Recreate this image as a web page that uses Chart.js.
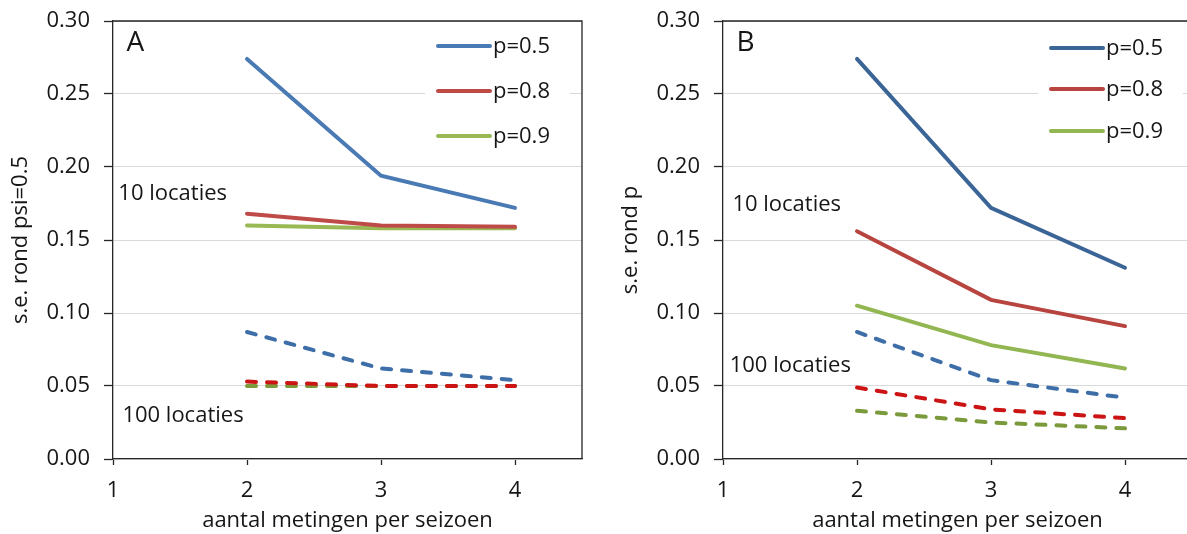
<!DOCTYPE html>
<html>
<head>
<meta charset="utf-8">
<script src="https://cdn.jsdelivr.net/npm/chart.js@4/dist/chart.umd.min.js"></script>
<style>
html, body { margin: 0; padding: 0; background: #fff; overflow: hidden; }
#wrap { position: relative; width: 1187px; height: 534px; overflow: hidden; }
.panel { position: absolute; top: 0; width: 600px; height: 534px; }
</style>
</head>
<body>
<div id="wrap">
  <div class="panel" style="left:0"><canvas id="chartA" width="600" height="534"></canvas></div>
  <div class="panel" style="left:610px"><canvas id="chartB" width="600" height="534"></canvas></div>
</div>
<script>
// metingen per seizoen
const xValues = [2, 3, 4]
const xTicks = [1, 2, 3, 4]
const yTicks = [0, 0.05, 0.10, 0.15, 0.20, 0.25, 0.30]
const seriesLabels = ['p=0.5', 'p=0.8', 'p=0.9']

// A: s.e. rond psi=0.5
const a10_p05 = [0.274, 0.194, 0.172]
const a10_p08 = [0.168, 0.160, 0.159]
const a10_p09 = [0.160, 0.158, 0.158]
const a100_p05 = [0.087, 0.062, 0.054]
const a100_p08 = [0.053, 0.050, 0.050]
const a100_p09 = [0.050, 0.050, 0.050]

// B: s.e. rond p
const b10_p05 = [0.274, 0.172, 0.131]
const b10_p08 = [0.156, 0.109, 0.091]
const b10_p09 = [0.105, 0.078, 0.062]
const b100_p05 = [0.087, 0.054, 0.042]
const b100_p08 = [0.049, 0.034, 0.028]
const b100_p09 = [0.033, 0.025, 0.021]

const FONT = "'Open Sans', sans-serif"
const FS = 22
const TXT = '#161616'

const toPoints = (vals) => xValues.map((x, i) => ({x: x, y: vals[i]}))

const makeDatasets = (s10, s100, colors10, colors100) => {
    var sets = []
    s10.forEach((vals, i) => {
        sets.push({
            label: seriesLabels[i],
            data: toPoints(vals),
            borderColor: colors10[i],
            borderWidth: 4,
            pointRadius: 0,
            borderCapStyle: 'round',
            inLegend: true
        })
    })
    s100.forEach((vals, i) => {
        sets.push({
            label: '100 locaties ' + seriesLabels[i],
            data: toPoints(vals),
            borderColor: colors100[i],
            borderWidth: 4,
            pointRadius: 0,
            borderDash: [9, 11],
            borderCapStyle: 'round',
            inLegend: false
        })
    })
    return sets
}

// frame, legend and text inside the plot
const panelDecor = {
    id: 'panelDecor',
    beforeDatasetsDraw(chart, args, opts) {
        const ca = chart.chartArea
        const ctx = chart.ctx
        ctx.save()
        ctx.fillStyle = '#fff'
        ctx.fillRect(ca.left + opts.legend.x - 13, ca.top + 2, 145, opts.legend.ys[2] + 20)
        ctx.restore()
    },
    afterDatasetsDraw(chart, args, opts) {
        const ca = chart.chartArea
        const ctx = chart.ctx
        const xs = chart.scales.x
        const ys = chart.scales.y
        ctx.save()
        ctx.strokeStyle = '#262626'
        ctx.lineWidth = 1.3
        ctx.beginPath()
        ctx.moveTo(ca.left, ca.top)
        ctx.lineTo(ca.right, ca.top)
        ctx.lineTo(ca.right, ca.bottom)
        ctx.stroke()

        // legend
        ctx.font = FS + 'px ' + FONT
        ctx.textBaseline = 'middle'
        ctx.textAlign = 'left'
        chart.data.datasets.filter(d => d.inLegend).forEach((d, i) => {
            const y = ca.top + opts.legend.ys[i]
            const x0 = ca.left + opts.legend.x
            ctx.strokeStyle = d.borderColor
            ctx.lineWidth = 4
            ctx.lineCap = 'round'
            ctx.beginPath()
            ctx.moveTo(x0, y)
            ctx.lineTo(x0 + 52, y)
            ctx.stroke()
            ctx.fillStyle = TXT
            ctx.fillText(d.label, x0 + 55, y + 1)
        })

        // notes
        opts.notes.forEach(n => {
            ctx.font = n.size + 'px ' + FONT
            ctx.fillStyle = TXT
            ctx.fillText(n.text, xs.getPixelForValue(n.x), ys.getPixelForValue(n.y))
        })
        ctx.restore()
    }
}

const makeChart = (id, yTitle, datasets, legend, notes) => {
    return new Chart(document.getElementById(id), {
        type: 'line',
        data: {datasets: datasets},
        options: {
            responsive: false,
            animation: false,
            layout: {padding: {top: 21, right: 18, left: 0, bottom: 0}},
            plugins: {
                legend: {display: false},
                tooltip: {enabled: false},
                panelDecor: {legend: legend, notes: notes}
            },
            scales: {
                x: {
                    type: 'linear',
                    min: 1,
                    max: 4.5,
                    afterBuildTicks: (scale) => { scale.ticks = xTicks.map(v => ({value: v})) },
                    afterFit: (scale) => {
                        scale.height = 75
                        scale.paddingLeft = 0
                        scale.paddingRight = 0
                    },
                    grid: {drawOnChartArea: false, drawTicks: true, tickLength: 6, tickColor: '#262626', tickWidth: 1.3},
                    border: {display: true, color: '#262626', width: 1.3},
                    ticks: {font: {family: FONT, size: FS}, color: TXT, padding: 13, maxRotation: 0},
                    title: {display: true, text: 'aantal metingen per seizoen', font: {family: FONT, size: FS}, color: TXT, padding: {top: 0, bottom: 0}}
                },
                y: {
                    min: 0,
                    max: 0.30,
                    afterBuildTicks: (scale) => { scale.ticks = yTicks.map(v => ({value: v})) },
                    afterFit: (scale) => {
                        scale.width = 113
                        scale.paddingTop = 0
                        scale.paddingBottom = 0
                    },
                    grid: {color: '#d9d9d9', lineWidth: 1, drawTicks: true, tickLength: 9, tickColor: '#262626', tickWidth: 1.3},
                    border: {display: true, color: '#262626', width: 1.3},
                    ticks: {font: {family: FONT, size: FS}, color: TXT, padding: 14, callback: (v) => v.toFixed(2)},
                    title: {display: true, text: yTitle, font: {family: FONT, size: FS}, color: TXT, padding: {top: 8, bottom: 0}}
                }
            }
        },
        plugins: [panelDecor]
    })
}

makeChart('chartA', 's.e. rond psi=0.5',
    makeDatasets([a10_p05, a10_p08, a10_p09], [a100_p05, a100_p08, a100_p09],
        ['#4a7ab4', '#be4b48', '#98b954'], ['#3d6ea8', '#cc1414', '#7a9a3c']),
    {x: 325, ys: [25, 70, 115]},
    [
        {text: 'A', x: 1.10, y: 0.285, size: 28},
        {text: '10 locaties', x: 1.04, y: 0.182, size: FS},
        {text: '100 locaties', x: 1.07, y: 0.0294, size: FS}
    ])

makeChart('chartB', 's.e. rond p',
    makeDatasets([b10_p05, b10_p08, b10_p09], [b100_p05, b100_p08, b100_p09],
        ['#3b6596', '#b8443f', '#92b651'], ['#3d6ea8', '#cc1414', '#7a9a3c']),
    {x: 328, ys: [27, 68, 110]},
    [
        {text: 'B', x: 1.10, y: 0.285, size: 28},
        {text: '10 locaties', x: 1.07, y: 0.174, size: FS},
        {text: '100 locaties', x: 1.05, y: 0.064, size: FS}
    ])
</script>
</body>
</html>
